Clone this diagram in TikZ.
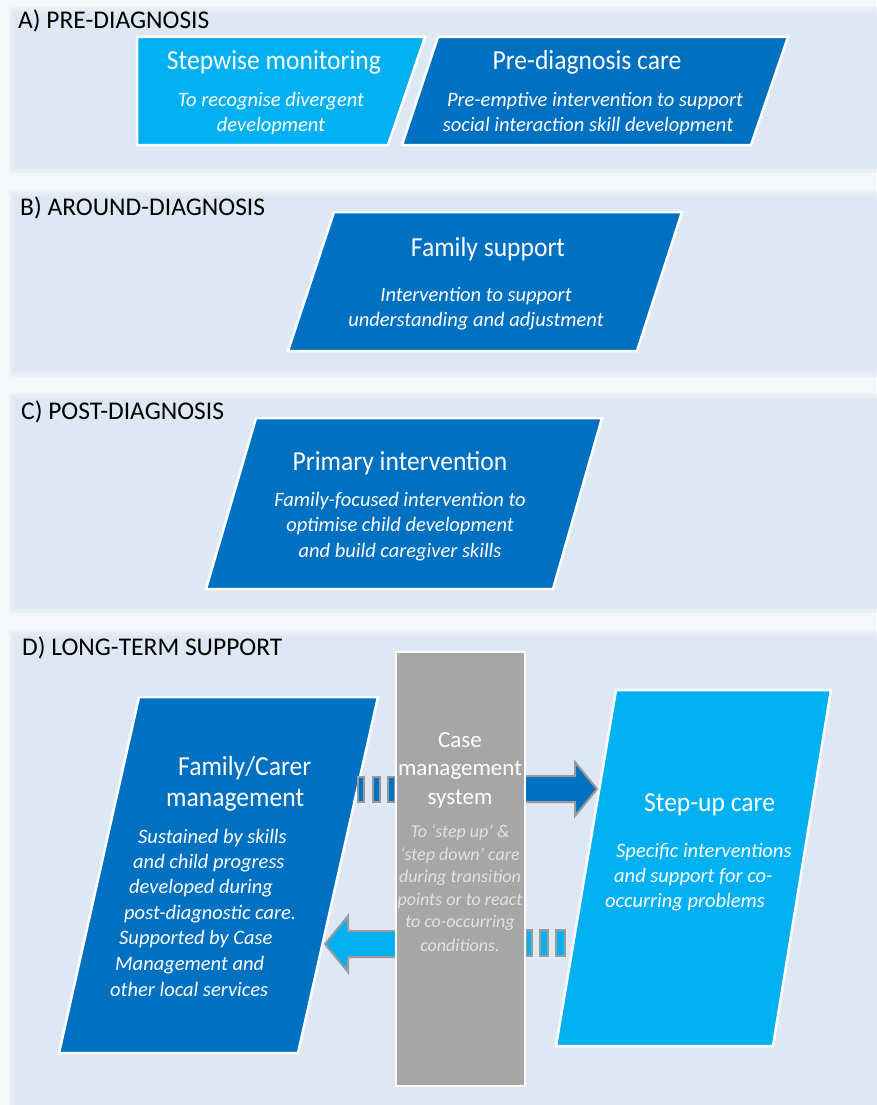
\documentclass[tikz,border=0pt]{standalone}
\usepackage{fontspec}
\setmainfont{Carlito}
\newfontfamily\titlefont[FakeStretch=0.93]{Carlito}
\definecolor{pageback}{HTML}{F4F7FB}
\definecolor{panelblue}{HTML}{DEE8F4}
\definecolor{darkblue}{HTML}{0070C0}
\definecolor{lightblue}{HTML}{00B0F0}
\definecolor{casegray}{HTML}{A6A6A6}
\definecolor{arrowgray}{HTML}{9A9A9A}
\definecolor{casetext}{HTML}{E2E2E2}
\tikzset{
  dbox/.style={fill=darkblue, draw=white, line width=2.5pt, line join=miter},
  lbox/.style={fill=lightblue, draw=white, line width=2.5pt, line join=miter},
  ttl/.style={text=white, font=\titlefont\fontsize{27.5}{32}\selectfont, anchor=base, inner sep=0pt},
  ttlw/.style={ttl, anchor=base west},
  desc/.style={text=white, font=\fontsize{20.5}{25}\selectfont\itshape, anchor=base, inner sep=0pt},
  descw/.style={desc, anchor=base west},
  casettl/.style={text=white, font=\fontsize{23}{28}\selectfont, anchor=base, inner sep=0pt},
  casedesc/.style={text=casetext, font=\fontsize{18}{22}\selectfont\itshape, anchor=base, inner sep=0pt},
  lbl/.style={text=black, font=\fontsize{25.5}{30}\selectfont, anchor=base west, inner sep=0pt},
  blockarrow/.style={draw=arrowgray, line width=2pt, line join=miter},
}
\begin{document}
\begin{tikzpicture}[x=1pt, y=-1pt]
\useasboundingbox (0,0) rectangle (876,1105);
\fill[pageback] (0,0) rectangle (876,1105);
% panels with soft edges
\foreach \ya/\yb in {7/173, 190/377, 393/613, 630/1112}{
  \foreach \i in {0,1.5,3,4.5}{
    \fill[panelblue, opacity=0.3] (9+\i,\ya+\i) rectangle (884,\yb-\i);
  }
  \fill[panelblue] (15,\ya+6) rectangle (884,\yb-6);
}
% section labels
\node[lbl] (la) at (18,29) {A) PRE-DIAGNOSIS};
\node[lbl] (lb) at (20,215) {B) AROUND-DIAGNOSIS};
\node[lbl] (lc) at (21,419) {C) POST-DIAGNOSIS};
\node[lbl] (ld) at (22,655) {D) LONG-TERM SUPPORT};
% A boxes
\draw[lbox] (137,37) -- (425,37) -- (388,145) -- (137,145) -- cycle;
\draw[dbox] (438,37) -- (788,37) -- (751,145) -- (402,145) -- cycle;
\node[ttl] (a1t) at (274,70) {Stepwise monitoring};
\node[desc] (a1d1) at (271,106.5) {To recognise divergent};
\node[desc] (a1d2) at (271,131.5) {development};
\node[ttl] (a2t) at (587,70) {Pre-diagnosis care};
\node[desc] (a2d1) at (595,106.5) {Pre-emptive intervention to support};
\node[desc] (a2d2) at (588,131.5) {social interaction skill development};
% B box
\draw[dbox] (334,212) -- (682,212) -- (637,351) -- (288,351) -- cycle;
\node[ttl] (bt) at (488,256) {Family support};
\node[desc] (bd1) at (476,301.5) {Intervention to support};
\node[desc] (bd2) at (476,326.5) {understanding and adjustment};
% C box
\draw[dbox] (256,418) -- (602,418) -- (553,589) -- (206,589) -- cycle;
\node[ttl] (ct) at (400,470) {Primary intervention};
\node[desc] (cd1) at (400,506.5) {Family-focused intervention to};
\node[desc] (cd2) at (400,531.5) {optimise child development};
\node[desc] (cd3) at (400,557.5) {and build caregiver skills};
% D boxes
\draw[dbox] (139,697) -- (378,697) -- (298,1053) -- (59,1053) -- cycle;
\draw[lbox] (616,690) -- (831,690) -- (773,1046) -- (556,1046) -- cycle;
% block arrows
\draw[blockarrow, fill=darkblue] (400,776) -- (575,776) -- (575,762) -- (597,789) -- (575,816) -- (575,802) -- (400,802) -- cycle;
\foreach \xa/\xb in {358/364, 373/380, 388/395}{
  \draw[blockarrow, fill=darkblue] (\xa,777) rectangle (\xb,802);
}
\draw[blockarrow, fill=lightblue] (522,931) -- (348,931) -- (348,916) -- (325,944) -- (348,972) -- (348,957) -- (522,957) -- cycle;
\foreach \xa/\xb in {526/532, 540/548, 556/565}{
  \draw[blockarrow, fill=lightblue] (\xa,930) rectangle (\xb,956);
}
% case management column
\draw[fill=casegray, draw=white, line width=2pt] (396,652) rectangle (525,1086);
\node[casettl] (cm1) at (460,747) {Case};
\node[casettl] (cm2) at (460,775) {management};
\node[casettl] (cm3) at (460,804) {system};
\node[casedesc] (cmd1) at (460,837.5) {To ‘step up’ \&};
\node[casedesc] (cmd2) at (460,860.5) {‘step down’ care};
\node[casedesc] (cmd3) at (460,882.5) {during transition};
\node[casedesc] (cmd4) at (460,905.5) {points or to react};
\node[casedesc] (cmd5) at (460,927.5) {to co-occurring};
\node[casedesc] (cmd6) at (460,951.5) {conditions.};
% family/carer text
\node[ttlw] (ft1) at (178,775) {Family/Carer};
\node[ttlw] (ft2) at (166,806) {management};
\node[descw] (fd1) at (138,843.5) {Sustained by skills};
\node[descw] (fd2) at (133,868.5) {and child progress};
\node[descw] (fd3) at (129,893.5) {developed during};
\node[descw] (fd4) at (124,919.5) {post-diagnostic care.};
\node[descw] (fd5) at (119,944.5) {Supported by Case};
\node[descw] (fd6) at (115,970.5) {Management and};
\node[descw] (fd7) at (110,996.5) {other local services};
% step-up text
\node[ttlw] (st) at (644,811) {Step-up care};
\node[descw] (sd1) at (616,857.5) {Specific interventions};
\node[descw] (sd2) at (614,882.5) {and support for co-};
\node[descw] (sd3) at (605,907.5) {occurring problems};
\end{tikzpicture}
\end{document}
